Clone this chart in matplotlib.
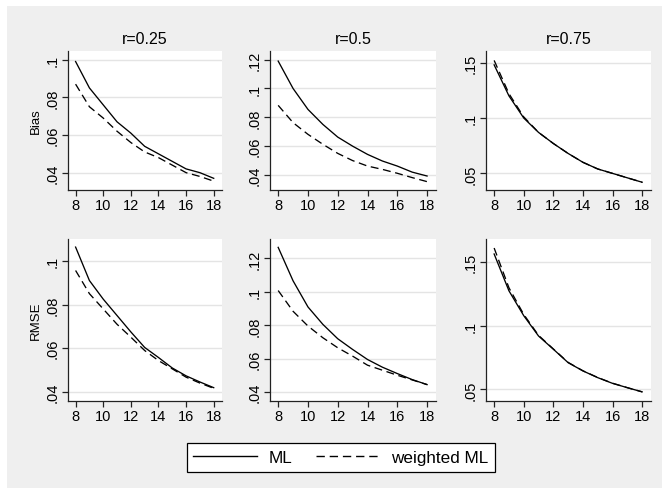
import matplotlib
matplotlib.use("Agg")
import matplotlib.pyplot as plt
from matplotlib.patches import Rectangle
from matplotlib.lines import Line2D

plt.rcParams['font.family'] = ['Liberation Sans', 'DejaVu Sans']

n = [8, 9, 10, 11, 12, 13, 14, 15, 16, 17, 18]
r_titles = ["r=0.25", "r=0.5", "r=0.75"]
row_labels = ["Bias", "RMSE"]

# Bias
bias_ml_025 = [0.099, 0.085, 0.076, 0.067, 0.061, 0.054, 0.050, 0.046, 0.042, 0.040, 0.037]
bias_wml_025 = [0.087, 0.075, 0.069, 0.062, 0.056, 0.051, 0.048, 0.044, 0.040, 0.038, 0.0355]
bias_ml_05 = [0.119, 0.100, 0.0855, 0.0751, 0.0663, 0.060, 0.0543, 0.0497, 0.0462, 0.042, 0.0393]
bias_wml_05 = [0.0883, 0.0763, 0.0682, 0.0613, 0.055, 0.050, 0.0462, 0.0439, 0.0412, 0.0382, 0.0354]
bias_ml_075 = [0.148, 0.120, 0.100, 0.087, 0.077, 0.068, 0.060, 0.054, 0.050, 0.046, 0.042]
bias_wml_075 = [0.152, 0.122, 0.101, 0.087, 0.077, 0.068, 0.060, 0.054, 0.050, 0.046, 0.042]

# RMSE
rmse_ml_025 = [0.1063, 0.091, 0.0825, 0.075, 0.0675, 0.0604, 0.0558, 0.051, 0.0474, 0.0446, 0.042]
rmse_wml_025 = [0.0956, 0.085, 0.078, 0.071, 0.0651, 0.059, 0.0544, 0.0506, 0.0468, 0.0441, 0.0417]
rmse_ml_05 = [0.1266, 0.1066, 0.091, 0.0806, 0.072, 0.0656, 0.0596, 0.055, 0.0512, 0.0476, 0.0446]
rmse_wml_05 = [0.1008, 0.0884, 0.0796, 0.0726, 0.0666, 0.0616, 0.0562, 0.0532, 0.0502, 0.0474, 0.0446]
rmse_ml_075 = [0.1566, 0.1276, 0.108, 0.092, 0.0816, 0.071, 0.0645, 0.0592, 0.0547, 0.0513, 0.048]
rmse_wml_075 = [0.1613, 0.130, 0.109, 0.0925, 0.0818, 0.0712, 0.0646, 0.0593, 0.0548, 0.0513, 0.048]

panels = [
    [(bias_ml_025, bias_wml_025), (bias_ml_05, bias_wml_05), (bias_ml_075, bias_wml_075)],
    [(rmse_ml_025, rmse_wml_025), (rmse_ml_05, rmse_wml_05), (rmse_ml_075, rmse_wml_075)],
]
yticks = [
    [[0.04, 0.06, 0.08, 0.1], [0.04, 0.06, 0.08, 0.1, 0.12], [0.05, 0.1, 0.15]],
    [[0.04, 0.06, 0.08, 0.1], [0.04, 0.06, 0.08, 0.1, 0.12], [0.05, 0.1, 0.15]],
]
ylims = [
    [(0.0308, 0.1046), (0.0296, 0.126), (0.035, 0.1605)],
    [(0.0359, 0.110), (0.0348, 0.1316), (0.0408, 0.1684)],
]
xticks = [8, 10, 12, 14, 16, 18]


def fmt(v):
    s = ("%.2f" % v).rstrip("0").rstrip(".")
    return s[1:] if s.startswith("0") else s


W, H = 662, 489
fig = plt.figure(figsize=(W / 100, H / 100), dpi=100, facecolor="white")
fig.patches.append(Rectangle((7 / W, 0), 1, 1 - 7 / H, transform=fig.transFigure,
                             facecolor="#efefef", edgecolor="none", zorder=-10))

lefts = [68, 270, 486]
rights = [222, 436, 651]
tops = [52, 240]
bottoms = [191, 402]

grid_c = "#e4e4e4"
for i in range(2):
    for j in range(3):
        l, r_ = lefts[j], rights[j]
        t, b = tops[i], bottoms[i]
        ax = fig.add_axes([l / W, 1 - b / H, (r_ - l) / W, (b - t) / H])
        ax.set_facecolor("white")
        ml, wml = panels[i][j]
        ax.plot(n, ml, color="black", lw=0.95)
        ax.plot(n, wml, color="black", lw=0.95, dashes=(6, 3.5))
        ax.set_xlim(7.45, 18.6)
        ax.set_ylim(*ylims[i][j])
        ax.set_xticks(xticks)
        ax.set_yticks(yticks[i][j])
        ax.set_yticklabels([fmt(v) for v in yticks[i][j]], rotation=90, va="center")
        ax.yaxis.grid(True, color=grid_c, lw=1.0)
        ax.set_axisbelow(True)
        for s in ("top", "right"):
            ax.spines[s].set_visible(False)
        for s in ("left", "bottom"):
            ax.spines[s].set_linewidth(0.9)
            ax.spines[s].set_color("#222222")
        ax.tick_params(direction="out", length=4, width=0.9, color="#222222",
                       labelsize=10.5, pad=2)
        if i == 0:
            ax.set_title(r_titles[j], fontsize=11.5, pad=6)
        if j == 0:
            ax.set_ylabel(row_labels[i], fontsize=9.5, labelpad=3)

handles = [Line2D([], [], color="black", lw=1.0),
           Line2D([], [], color="black", lw=1.0, dashes=(6, 3.5))]
leg = fig.legend(handles, ["ML", "weighted ML"], loc="center",
                 bbox_to_anchor=(341 / W, 1 - 458.5 / H), ncol=2, fontsize=12.3,
                 frameon=True, fancybox=False, edgecolor="black", framealpha=1,
                 handlelength=3.7, handletextpad=0.7, columnspacing=1.4,
                 borderpad=0.4, borderaxespad=0)
leg.get_frame().set_linewidth(0.9)

fig.savefig("out.png", dpi=100, facecolor=fig.get_facecolor())
